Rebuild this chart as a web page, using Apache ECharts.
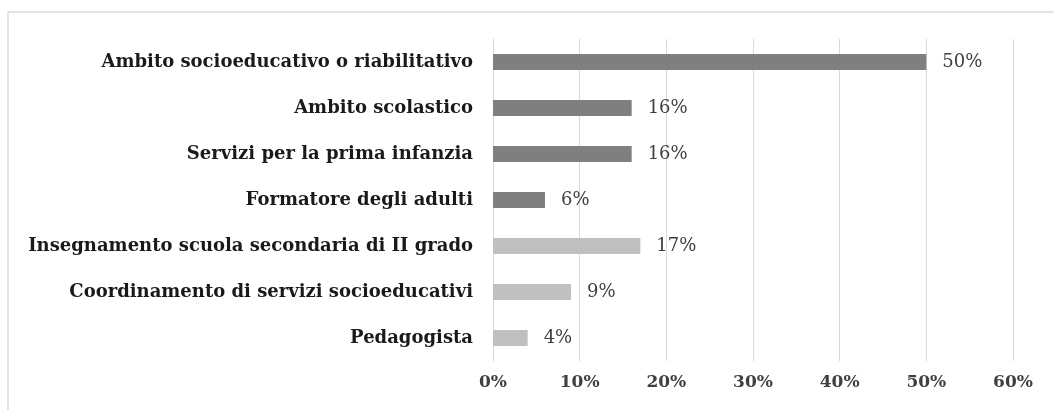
<!DOCTYPE html>
<html>
<head>
<meta charset="utf-8">
<script src="https://cdn.jsdelivr.net/npm/echarts@6/dist/echarts.min.js"></script>
<style>
html,body{margin:0;padding:0;background:#fff;}
#c{width:1054px;height:410px;}
</style>
</head>
<body>
<div id="c"></div>
<script>
const categories = [
  "Ambito socioeducativo o riabilitativo",
  "Ambito scolastico",
  "Servizi per la prima infanzia",
  "Formatore degli adulti",
  "Insegnamento scuola secondaria di II grado",
  "Coordinamento di servizi socioeducativi",
  "Pedagogista"
];
const values = [50, 16, 16, 6, 17, 9, 4];
const groups = ["dark", "dark", "dark", "dark", "light", "light", "light"];
const tickValues = [0, 10, 20, 30, 40, 50, 60];

const colorMap = { dark: "#7f7f7f", light: "#bfbfbf" };
const serif = "'DejaVu Serif', 'Liberation Serif', serif";

const chart = echarts.init(document.getElementById('c'));
chart.setOption({
  animation: false,
  backgroundColor: '#ffffff',
  graphic: [{
    type: 'rect',
    shape: { x: 8, y: 12, width: 1060, height: 420 },
    style: { fill: 'none', stroke: '#dcdcdc', lineWidth: 1.5 },
    silent: true
  }],
  grid: { left: 493, right: 41, top: 39, bottom: 49, containLabel: false },
  xAxis: {
    type: 'value',
    min: 0, max: 60, interval: 10,
    axisLine: { show: false },
    axisTick: { show: false },
    splitLine: { show: true, lineStyle: { color: '#d9d9d9', width: 1 } },
    axisLabel: {
      formatter: v => tickValues.includes(v) ? v + '%' : '',
      fontFamily: serif, fontWeight: 'bold', fontSize: 17, color: '#404040', margin: 13
    }
  },
  yAxis: {
    type: 'category',
    data: categories,
    inverse: true,
    axisLine: { show: true, lineStyle: { color: '#d9d9d9', width: 1 } },
    axisTick: { show: false },
    axisLabel: {
      fontFamily: serif, fontWeight: 'bold', fontSize: 18, color: '#1a1a1a', margin: 20
    }
  },
  series: [{
    type: 'bar',
    barWidth: 16,
    data: values.map((v, i) => ({ value: v, itemStyle: { color: colorMap[groups[i]] } })),
    label: {
      show: true, position: 'right', distance: 16,
      formatter: p => p.value + '%',
      fontFamily: serif, fontSize: 18, color: '#404040'
    }
  }]
});
</script>
</body>
</html>
